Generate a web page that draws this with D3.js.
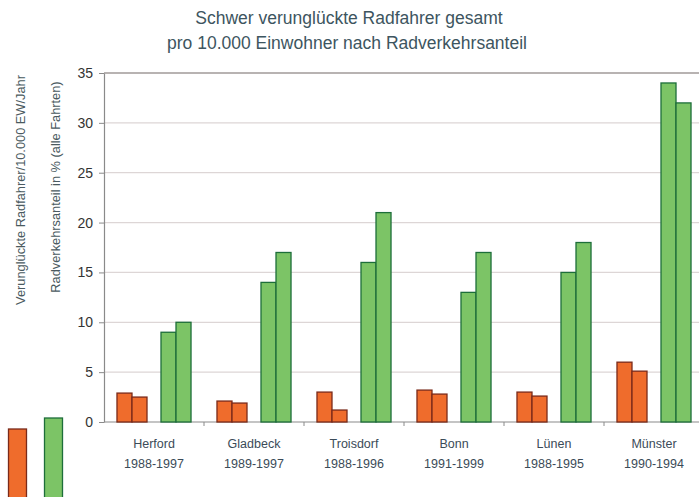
<!DOCTYPE html>
<html lang="de">
<head>
  <meta charset="utf-8">
  <script src="https://cdn.jsdelivr.net/npm/d3@7"></script>
  <style>
    body { margin: 0; background: #fff; font-family: "Liberation Sans", Arial, sans-serif; }
    .grid line { stroke: #ddd6d6; stroke-width: 1.2; }
    .axis path, .axis line { stroke: #8a8a8a; }
    .ytick text { fill: #333; font-size: 14px; }
    .cat { fill: #3b4b58; font-size: 12.5px; }
    .title { fill: #3d5560; font-size: 17.5px; }
    .ylab { fill: #4a5a60; font-size: 12.8px; }
  </style>
</head>
<body>
  <svg id="chart" width="699" height="497"></svg>
  <script>
    // data
    var staedte = ["Herford", "Gladbeck", "Troisdorf", "Bonn", "Lünen", "Münster"];
    var zeitraum = ["1988-1997", "1989-1997", "1988-1996", "1991-1999", "1988-1995", "1990-1994"];
    var verunglueckt = [[2.9, 2.5], [2.1, 1.9], [3.0, 1.2], [3.2, 2.8], [3.0, 2.6], [6.0, 5.1]];
    var radanteil = [[9, 10], [14, 17], [16, 21], [13, 17], [15, 18], [34, 32]];
    var yTicks = [0, 5, 10, 15, 20, 25, 30, 35];

    var svg = d3.select("#chart");

    var x = d3.scaleBand().domain(staedte).range([104, 704]);
    var pair = d3.scaleBand().domain(["unfall", "anteil"]).range([0, x.bandwidth()])
        .paddingInner(0.318).paddingOuter(0.295);
    var sub = d3.scaleBand().domain([0, 1]).range([0, pair.bandwidth()]);
    var y = d3.scaleLinear().domain([0, 35]).range([422, 73]);

    // title
    var t = svg.append("text").attr("class", "title").attr("text-anchor", "middle");
    t.append("tspan").attr("x", 349).attr("y", 24).text("Schwer verunglückte Radfahrer gesamt");
    t.append("tspan").attr("x", 347).attr("y", 49).text("pro 10.000 Einwohner nach Radverkehrsanteil");

    // gridlines
    svg.append("g").attr("class", "grid")
      .selectAll("line").data(yTicks.filter(function(d) { return d > 0 && d < 35; }))
      .enter().append("line")
        .attr("x1", 104).attr("x2", 699)
        .attr("y1", function(d) { return y(d); })
        .attr("y2", function(d) { return y(d); });

    // top border
    svg.append("line").attr("x1", 104).attr("x2", 699).attr("y1", y(35)).attr("y2", y(35))
      .attr("stroke", "#a09a98").attr("stroke-width", 1.3);

    // y axis
    var yAxis = svg.append("g").attr("class", "axis ytick")
      .attr("transform", "translate(104,0)")
      .call(d3.axisLeft(y).tickValues(yTicks).tickSize(5).tickPadding(6).tickSizeOuter(0));
    yAxis.select(".domain").attr("stroke-width", 1.2);

    // x axis
    var xAxis = svg.append("g").attr("class", "axis")
      .attr("transform", "translate(0," + y(0) + ")");
    xAxis.append("line").attr("x1", 104).attr("x2", 699).attr("stroke-width", 1.2);
    xAxis.selectAll(".sep").data(staedte.slice(1))
      .enter().append("line")
        .attr("x1", function(d) { return x(d); }).attr("x2", function(d) { return x(d); })
        .attr("y1", 0).attr("y2", 4);

    // bars
    var groups = svg.append("g").selectAll("g").data(staedte)
      .enter().append("g")
        .attr("transform", function(d) { return "translate(" + x(d) + ",0)"; });

    groups.selectAll("rect.o").data(function(d, i) { return verunglueckt[i]; })
      .enter().append("rect").attr("class", "o")
        .attr("x", function(d, j) { return pair("unfall") + sub(j); })
        .attr("width", sub.bandwidth())
        .attr("y", function(d) { return y(d); })
        .attr("height", function(d) { return y(0) - y(d); })
        .attr("fill", "#ef6c2c").attr("stroke", "#7a2a1a").attr("stroke-width", 1.3);

    groups.selectAll("rect.g").data(function(d, i) { return radanteil[i]; })
      .enter().append("rect").attr("class", "g")
        .attr("x", function(d, j) { return pair("anteil") + sub(j); })
        .attr("width", sub.bandwidth())
        .attr("y", function(d) { return y(d); })
        .attr("height", function(d) { return y(0) - y(d); })
        .attr("fill", "#7cc466").attr("stroke", "#1d6e3a").attr("stroke-width", 1.3);

    // category labels
    var lab = groups.append("text").attr("class", "cat").attr("text-anchor", "middle");
    lab.append("tspan").attr("x", x.bandwidth() / 2).attr("y", 448)
      .text(function(d) { return d; });
    lab.append("tspan").attr("x", x.bandwidth() / 2).attr("y", 468)
      .text(function(d, i) { return zeitraum[i]; });

    // y axis titles
    svg.append("text").attr("class", "ylab").attr("text-anchor", "middle")
      .attr("fill", "#3f6466")
      .attr("transform", "translate(25,190) rotate(-90)")
      .text("Verunglückte Radfahrer/10.000 EW/Jahr");
    svg.append("text").attr("class", "ylab").attr("text-anchor", "middle")
      .attr("transform", "translate(60,187) rotate(-90)")
      .text("Radverkehrsanteil in % (alle Fahrten)");

    // legend swatches
    svg.append("rect").attr("x", 8.5).attr("y", 429).attr("width", 18).attr("height", 80)
      .attr("fill", "#ef6c2c").attr("stroke", "#7a2a1a").attr("stroke-width", 1.3);
    svg.append("rect").attr("x", 44.5).attr("y", 418).attr("width", 18).attr("height", 90)
      .attr("fill", "#7cc466").attr("stroke", "#1d6e3a").attr("stroke-width", 1.3);
  </script>
</body>
</html>
